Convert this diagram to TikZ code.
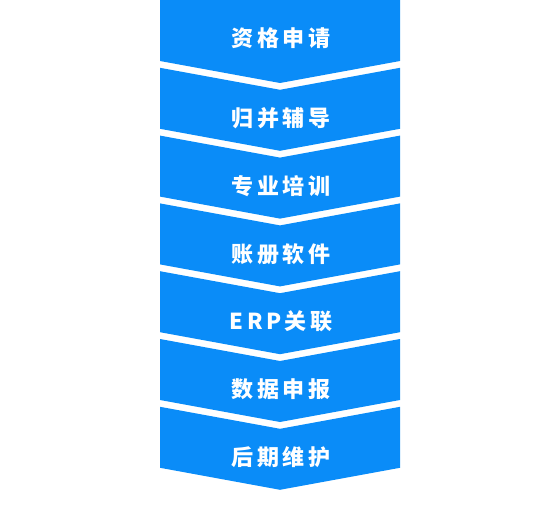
\documentclass[tikz,border=0pt]{standalone}
\usepackage{fontspec}
\newfontfamily\cjk[LetterSpace=16]{Noto Sans CJK SC}
\definecolor{stepblue}{HTML}{0A8CF8}
\begin{document}
\begin{tikzpicture}[x=1pt,y=-1pt,
  chev/.style={fill=stepblue,draw=none},
  lbl/.style={text=white,font=\cjk\bfseries\fontsize{22}{26}\selectfont,inner sep=0pt,anchor=center}]
\useasboundingbox (0,0) rectangle (560,508);
% first block (flat top)
\fill[stepblue] (160,0) -- (400,0) -- (400,61) -- (280,83) -- (160,61) -- cycle;
\node[lbl] (s0) at (281,38.5) {资格申请};
\foreach \i/\t in {1/归并辅导,2/专业培训,3/账册软件,4/ERP关联,5/数据申报,6/后期维护}{
  \pgfmathsetmacro{\yy}{67.8*\i}
  \fill[stepblue] (160,\yy) -- (280,\yy+22) -- (400,\yy) -- (400,\yy+61) -- (280,\yy+83) -- (160,\yy+61) -- cycle;
  \node[lbl] (s\i) at (281,\yy+50.5) {\t};
}
\end{tikzpicture}
\end{document}
